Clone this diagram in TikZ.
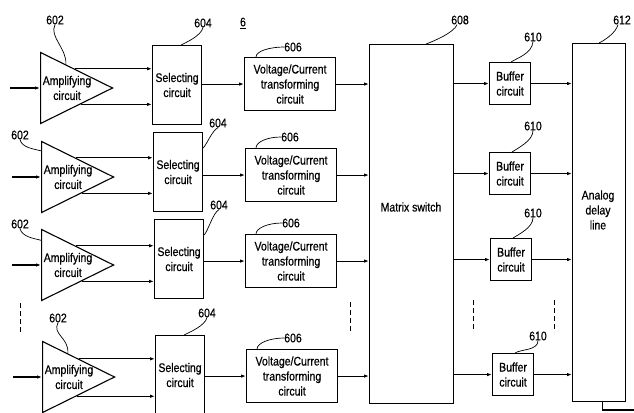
\documentclass[tikz,border=0pt]{standalone}
\usepackage{fontspec}
\newfontfamily\figfamily{Liberation Sans}[FakeStretch=0.84,FakeBold=0.6]
\usetikzlibrary{arrows.meta,positioning,calc,shapes.geometric}

\begin{document}
\begin{tikzpicture}[
    x=1pt, y=-1pt,
    txt/.style={font=\fontsize{12.5}{15}\selectfont\figfamily, align=center, inner sep=0pt},
    block/.style={txt, rectangle, draw, line width=1.1pt, anchor=north west, inner sep=1pt},
    selbox/.style={block, minimum width=49pt, minimum height=79pt},
    vibox/.style={block, minimum width=91pt, minimum height=53pt},
    bufbox/.style={block, minimum width=41pt, minimum height=42pt},
    ampl/.style={isosceles triangle, isosceles triangle stretches, draw, line width=1.1pt, minimum width=71pt, minimum height=72pt, inner sep=0pt, anchor=west},
    num/.style={txt},
    wire/.style={line width=1.1pt, -{Latex[length=5pt,width=3.5pt]}},
    leader/.style={line width=0.7pt},
    gap/.style={line width=0.8pt, dash pattern=on 5pt off 3pt}
]
\useasboundingbox (0,0) rectangle (634,412);

% ============ common blocks ============
\node[block, minimum width=84pt, minimum height=359pt] (mat) at (369,44) {};
\node[txt] (mat-text) at (411,207) {Matrix switch};
\node[block, minimum width=53pt, minimum height=358pt] (delay) at (572,43) {};
\node[txt] (delay-text) at (598,210) {Analog\\delay\\line};

\node[num] (n6) at (243,23) {\underline{6}};
\node[num] (n608) at (460,20) {608};
\node[num] (n612) at (622,20) {612};

% ============ row 1 ============
\node[ampl] (amp1) at (40,88) {};
\node[txt] (amp1-text) at ([xshift=27pt]amp1.west) {Amplifying\\circuit};
\node[selbox] (sel1) at (152,45) {Selecting\\circuit};
\node[vibox] (vi1) at (244,57) {Voltage/Current\\transforming\\circuit};
\node[bufbox] (buf1) at (489,62) {Buffer\\circuit};

\node[num] (n602-1) at (55,20) {602};
\node[num] (n604-1) at (203,23) {604};
\node[num] (n606-1) at (293,47) {606};
\node[num] (n610-1) at (533,37) {610};

% ============ row 2 ============
\node[ampl] (amp2) at (41,177) {};
\node[txt] (amp2-text) at ([xshift=27pt]amp2.west) {Amplifying\\circuit};
\node[selbox] (sel2) at (153,132) {Selecting\\circuit};
\node[vibox] (vi2) at (245,148) {Voltage/Current\\transforming\\circuit};
\node[bufbox] (buf2) at (489,152) {Buffer\\circuit};

\node[num] (n602-2) at (20,135) {602};
\node[num] (n604-2) at (218,123) {604};
\node[num] (n606-2) at (290,137) {606};
\node[num] (n610-2) at (533,126) {610};

% ============ row 3 ============
\node[ampl] (amp3) at (41,265) {};
\node[txt] (amp3-text) at ([xshift=27pt]amp3.west) {Amplifying\\circuit};
\node[selbox] (sel3) at (154,219) {Selecting\\circuit};
\node[vibox] (vi3) at (245,234) {Voltage/Current\\transforming\\circuit};
\node[bufbox] (buf3) at (490,238) {Buffer\\circuit};

\node[num] (n602-3) at (20,224) {602};
\node[num] (n604-3) at (219,205) {604};
\node[num] (n606-3) at (291,223) {606};
\node[num] (n610-3) at (533,213) {610};

% ============ row 4 ============
\node[ampl] (amp4) at (42,377) {};
\node[txt] (amp4-text) at ([xshift=27pt]amp4.west) {Amplifying\\circuit};
\node[selbox] (sel4) at (155,335) {Selecting\\circuit};
\node[vibox] (vi4) at (246,349) {Voltage/Current\\transforming\\circuit};
\node[bufbox] (buf4) at (492,353) {Buffer\\circuit};

\node[num] (n602-4) at (58,318) {602};
\node[num] (n604-4) at (207,313) {604};
\node[num] (n606-4) at (293,338) {606};
\node[num] (n610-4) at (538,336) {610};

% ============ wires ============
\coordinate (in1) at (10,88);
\coordinate (in2) at (12,177);
\coordinate (in3) at (12,265);
\coordinate (in4) at (13,377);
\coordinate (amp1-hi) at ($(amp1.left corner)!0.47!(amp1.apex)$);
\coordinate (amp1-lo) at ($(amp1.right corner)!0.55!(amp1.apex)$);
\coordinate (amp2-hi) at ($(amp2.left corner)!0.47!(amp2.apex)$);
\coordinate (amp2-lo) at ($(amp2.right corner)!0.55!(amp2.apex)$);
\coordinate (amp3-hi) at ($(amp3.left corner)!0.47!(amp3.apex)$);
\coordinate (amp3-lo) at ($(amp3.right corner)!0.55!(amp3.apex)$);
\coordinate (amp4-hi) at ($(amp4.left corner)!0.50!(amp4.apex)$);
\coordinate (amp4-lo) at ($(amp4.right corner)!0.47!(amp4.apex)$);

\draw[wire] (in1) -- (amp1.west);
\draw[wire] (amp1-hi) -- (amp1-hi -| sel1.west);
\draw[wire] (amp1-lo) -- (amp1-lo -| sel1.west);
\draw[wire] (vi1.west -| sel1.east) -- (vi1.west);
\draw[wire] (vi1.east) -- (vi1.east -| mat.west);
\draw[wire] (buf1.west -| mat.east) -- (buf1.west);
\draw[wire] (buf1.east) -- (buf1.east -| delay.west);

\draw[wire] (in2) -- (amp2.west);
\draw[wire] (amp2-hi) -- (amp2-hi -| sel2.west);
\draw[wire] (amp2-lo) -- (amp2-lo -| sel2.west);
\draw[wire] (vi2.west -| sel2.east) -- (vi2.west);
\draw[wire] (vi2.east) -- (vi2.east -| mat.west);
\draw[wire] (buf2.west -| mat.east) -- (buf2.west);
\draw[wire] (buf2.east) -- (buf2.east -| delay.west);

\draw[wire] (in3) -- (amp3.west);
\draw[wire] (amp3-hi) -- (amp3-hi -| sel3.west);
\draw[wire] (amp3-lo) -- (amp3-lo -| sel3.west);
\draw[wire] (vi3.west -| sel3.east) -- (vi3.west);
\draw[wire] (vi3.east) -- (vi3.east -| mat.west);
\draw[wire] (buf3.west -| mat.east) -- (buf3.west);
\draw[wire] (buf3.east) -- (buf3.east -| delay.west);

\draw[wire] (in4) -- (amp4.west);
\draw[wire] (amp4-hi) -- (amp4-hi -| sel4.west);
\draw[wire] (amp4-lo) -- (amp4-lo -| sel4.west);
\draw[wire] (vi4.west -| sel4.east) -- (vi4.west);
\draw[wire] (vi4.east) -- (vi4.east -| mat.west);
\draw[wire] (buf4.west -| mat.east) -- (buf4.west);
\draw[wire] (buf4.east) -- (buf4.east -| delay.west);

\coordinate (delay-out) at (634,410);
\draw[line width=1.1pt] ([xshift=3pt]delay.south) |- (delay-out);

% ============ leaders ============
\draw[leader] (n602-1.south) .. controls +(-6,12) and +(1,-16) .. ($(amp1.left corner)!0.35!(amp1.apex)$);
\draw[leader] (n604-1.south) .. controls +(-2,8) and +(6,-3) .. ([xshift=4pt]sel1.north);
\draw[leader] (n606-1.west) .. controls +(-14,0) and +(0,-6) .. ([xshift=12pt]vi1.north west);
\draw[leader] (n610-1.south) .. controls +(-1,12) and +(6,-4) .. ([xshift=1pt]buf1.north);
\draw[leader] ([xshift=-3pt]n608.south) .. controls +(-3,8) and +(8,-3) .. ([xshift=-28pt]mat.north east);
\draw[leader] ([xshift=-4pt]n612.south) .. controls +(-2,8) and +(6,-3) .. (delay.north);

\draw[leader] (n602-2.south) .. controls +(2,8) and +(-8,-2) .. ($(amp2.left corner)!0.14!(amp2.right corner)$);
\draw[leader] (n604-2.south) .. controls +(-6,3) and +(4,-4) .. ([yshift=-16pt]sel2.north east);
\draw[leader] (n606-2.west) .. controls +(-14,0) and +(0,-6) .. ([xshift=11pt]vi2.north west);
\draw[leader] (n610-2.south) .. controls +(0,10) and +(6,-4) .. ([xshift=2pt]buf2.north);

\draw[leader] (n602-3.south) .. controls +(2,8) and +(-8,-2) .. ($(amp3.left corner)!0.16!(amp3.right corner)$);
\draw[leader] (n604-3.south) .. controls +(-6,3) and +(4,-4) .. ([yshift=-16pt]sel3.north east);
\draw[leader] (n606-3.west) .. controls +(-14,0) and +(0,-6) .. ([xshift=11pt]vi3.north west);
\draw[leader] (n610-3.south) .. controls +(0,10) and +(6,-4) .. ([xshift=2pt]buf3.north);

\draw[leader] (n602-4.south) .. controls +(-6,12) and +(1,-16) .. ($(amp4.left corner)!0.35!(amp4.apex)$);
\draw[leader] (n604-4.south) .. controls +(-2,8) and +(6,-3) .. ([xshift=4pt]sel4.north);
\draw[leader] (n606-4.west) .. controls +(-14,0) and +(0,-6) .. ([xshift=11pt]vi4.north west);
\draw[leader] (n610-4.south) .. controls +(0,10) and +(6,-4) .. ([xshift=2pt]buf4.north);

% ============ continuation marks ============
\draw[gap] (20,303) -- (20,333);
\draw[gap] (350,302) -- (350,332);
\draw[gap] (473,300) -- (473,332);
\draw[gap] (554,300) -- (554,332);

\end{tikzpicture}
\end{document}
